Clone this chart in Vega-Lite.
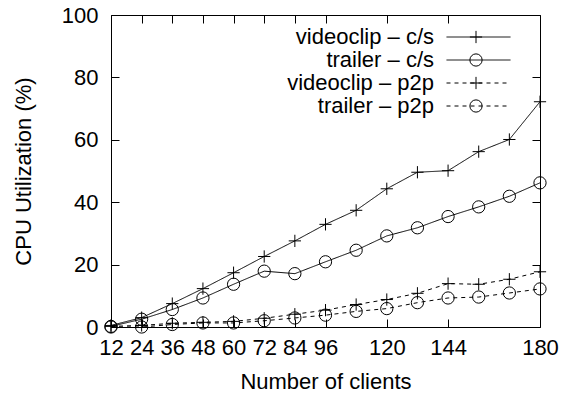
{
  "$schema": "https://vega.github.io/schema/vega-lite/v6.json",
  "width": 429,
  "height": 312,
  "autosize": {"type": "none"},
  "padding": {"left": 111, "top": 15, "right": 22, "bottom": 71},
  "background": "white",
  "config": {
    "font": "Liberation Sans",
    "view": {"stroke": "black", "strokeWidth": 1},
    "axis": {
      "domain": false,
      "grid": false,
      "tickColor": "black",
      "tickSize": -8,
      "tickWidth": 1,
      "labelFont": "Liberation Sans",
      "labelFontSize": 22,
      "labelColor": "black",
      "titleFont": "Liberation Sans",
      "titleFontSize": 22,
      "titleFontWeight": "normal",
      "titleColor": "black"
    },
    "legend": {
      "labelFont": "Liberation Sans",
      "labelFontSize": 22,
      "labelColor": "black"
    }
  },
  "data": {
    "values": [
      {"clients": 12, "series": "videoclip – c/s", "cpu": 0.5},
      {"clients": 24, "series": "videoclip – c/s", "cpu": 3.0},
      {"clients": 36, "series": "videoclip – c/s", "cpu": 7.5},
      {"clients": 48, "series": "videoclip – c/s", "cpu": 12.3},
      {"clients": 60, "series": "videoclip – c/s", "cpu": 17.4},
      {"clients": 72, "series": "videoclip – c/s", "cpu": 22.6},
      {"clients": 84, "series": "videoclip – c/s", "cpu": 27.6},
      {"clients": 96, "series": "videoclip – c/s", "cpu": 32.9},
      {"clients": 108, "series": "videoclip – c/s", "cpu": 37.4},
      {"clients": 120, "series": "videoclip – c/s", "cpu": 44.3},
      {"clients": 132, "series": "videoclip – c/s", "cpu": 49.6},
      {"clients": 144, "series": "videoclip – c/s", "cpu": 50.1},
      {"clients": 156, "series": "videoclip – c/s", "cpu": 56.2},
      {"clients": 168, "series": "videoclip – c/s", "cpu": 60.1},
      {"clients": 180, "series": "videoclip – c/s", "cpu": 72.2},
      {"clients": 12, "series": "trailer – c/s", "cpu": 0.2},
      {"clients": 24, "series": "trailer – c/s", "cpu": 2.5},
      {"clients": 36, "series": "trailer – c/s", "cpu": 5.6},
      {"clients": 48, "series": "trailer – c/s", "cpu": 9.3},
      {"clients": 60, "series": "trailer – c/s", "cpu": 13.7},
      {"clients": 72, "series": "trailer – c/s", "cpu": 17.9},
      {"clients": 84, "series": "trailer – c/s", "cpu": 17.1},
      {"clients": 96, "series": "trailer – c/s", "cpu": 20.9},
      {"clients": 108, "series": "trailer – c/s", "cpu": 24.6},
      {"clients": 120, "series": "trailer – c/s", "cpu": 29.2},
      {"clients": 132, "series": "trailer – c/s", "cpu": 31.8},
      {"clients": 144, "series": "trailer – c/s", "cpu": 35.4},
      {"clients": 156, "series": "trailer – c/s", "cpu": 38.5},
      {"clients": 168, "series": "trailer – c/s", "cpu": 41.9},
      {"clients": 180, "series": "trailer – c/s", "cpu": 46.2},
      {"clients": 12, "series": "videoclip – p2p", "cpu": 0.2},
      {"clients": 24, "series": "videoclip – p2p", "cpu": 0.5},
      {"clients": 36, "series": "videoclip – p2p", "cpu": 1.2},
      {"clients": 48, "series": "videoclip – p2p", "cpu": 1.5},
      {"clients": 60, "series": "videoclip – p2p", "cpu": 1.8},
      {"clients": 72, "series": "videoclip – p2p", "cpu": 2.8},
      {"clients": 84, "series": "videoclip – p2p", "cpu": 4.1},
      {"clients": 96, "series": "videoclip – p2p", "cpu": 5.4},
      {"clients": 108, "series": "videoclip – p2p", "cpu": 7.2},
      {"clients": 120, "series": "videoclip – p2p", "cpu": 8.8},
      {"clients": 132, "series": "videoclip – p2p", "cpu": 10.8},
      {"clients": 144, "series": "videoclip – p2p", "cpu": 13.9},
      {"clients": 156, "series": "videoclip – p2p", "cpu": 13.7},
      {"clients": 168, "series": "videoclip – p2p", "cpu": 15.3},
      {"clients": 180, "series": "videoclip – p2p", "cpu": 17.7},
      {"clients": 12, "series": "trailer – p2p", "cpu": 0.0},
      {"clients": 24, "series": "trailer – p2p", "cpu": 0.0},
      {"clients": 36, "series": "trailer – p2p", "cpu": 0.8},
      {"clients": 48, "series": "trailer – p2p", "cpu": 1.3},
      {"clients": 60, "series": "trailer – p2p", "cpu": 1.3},
      {"clients": 72, "series": "trailer – p2p", "cpu": 2.0},
      {"clients": 84, "series": "trailer – p2p", "cpu": 2.9},
      {"clients": 96, "series": "trailer – p2p", "cpu": 3.8},
      {"clients": 108, "series": "trailer – p2p", "cpu": 5.0},
      {"clients": 120, "series": "trailer – p2p", "cpu": 5.9},
      {"clients": 132, "series": "trailer – p2p", "cpu": 7.8},
      {"clients": 144, "series": "trailer – p2p", "cpu": 9.3},
      {"clients": 156, "series": "trailer – p2p", "cpu": 9.6},
      {"clients": 168, "series": "trailer – p2p", "cpu": 10.9},
      {"clients": 180, "series": "trailer – p2p", "cpu": 12.2}
    ]
  },
  "resolve": {"axis": {"x": "independent", "y": "independent"}},
  "layer": [
    {
      "mark": {"type": "line", "color": "black", "strokeWidth": 1},
      "encoding": {
        "x": {
          "field": "clients", "type": "quantitative",
          "scale": {"domain": [12, 180], "nice": false, "zero": false},
          "axis": {"orient": "bottom", "values": [12, 24, 36, 48, 60, 72, 84, 96, 120, 144, 180], "labelPadding": 18, "title": "Number of clients", "titlePadding": 13, "labelFlush": false, "labelOverlap": false}
        },
        "y": {
          "field": "cpu", "type": "quantitative",
          "scale": {"domain": [0, 100], "nice": false},
          "axis": {"orient": "left", "values": [0, 20, 40, 60, 80, 100], "labelPadding": 21, "title": "CPU Utilization (%)", "titlePadding": 26, "labelFlush": false}
        },
        "strokeDash": {
          "field": "series", "type": "nominal",
          "scale": {"domain": ["videoclip – c/s", "trailer – c/s", "videoclip – p2p", "trailer – p2p"], "range": [[1, 0], [1, 0], [4, 4], [4, 4]]},
          "legend": {
            "orient": "none", "legendX": 356.5, "legendY": 11, "title": null,
            "symbolType": "M-4,0L4,0", "symbolSize": 256, "symbolStrokeWidth": 1, "symbolStrokeColor": "black", "symbolFillColor": "transparent",
            "labelAlign": "right", "labelOffset": -55.5, "rowPadding": 1, "padding": 0
          }
        }
      }
    },
    {
      "mark": {"type": "point", "filled": false, "color": "black", "strokeWidth": 1, "size": 150, "opacity": 1},
      "encoding": {
        "x": {
          "field": "clients", "type": "quantitative",
          "axis": {"orient": "top", "values": [12, 24, 36, 48, 60, 72, 84, 96, 120, 144, 180], "labels": false, "title": null, "tickSize": -8}
        },
        "y": {
          "field": "cpu", "type": "quantitative",
          "axis": {"orient": "right", "values": [0, 20, 40, 60, 80, 100], "labels": false, "title": null, "tickSize": -8}
        },
        "shape": {
          "field": "series", "type": "nominal",
          "sort": {"field": "cpu", "op": "max", "order": "descending"},
          "scale": {"range": ["M-1,0L1,0M0,-1L0,1", "circle", "M-1,0L1,0M0,-1L0,1", "circle"]},
          "legend": {
            "orient": "none", "legendX": 356.5, "legendY": 11, "title": null,
            "symbolSize": 150, "symbolStrokeWidth": 1, "symbolStrokeColor": "black", "symbolFillColor": "transparent",
            "symbolOffset": -2.5, "labelExpr": "' '", "rowPadding": 1, "padding": 0
          }
        }
      }
    }
  ]
}
